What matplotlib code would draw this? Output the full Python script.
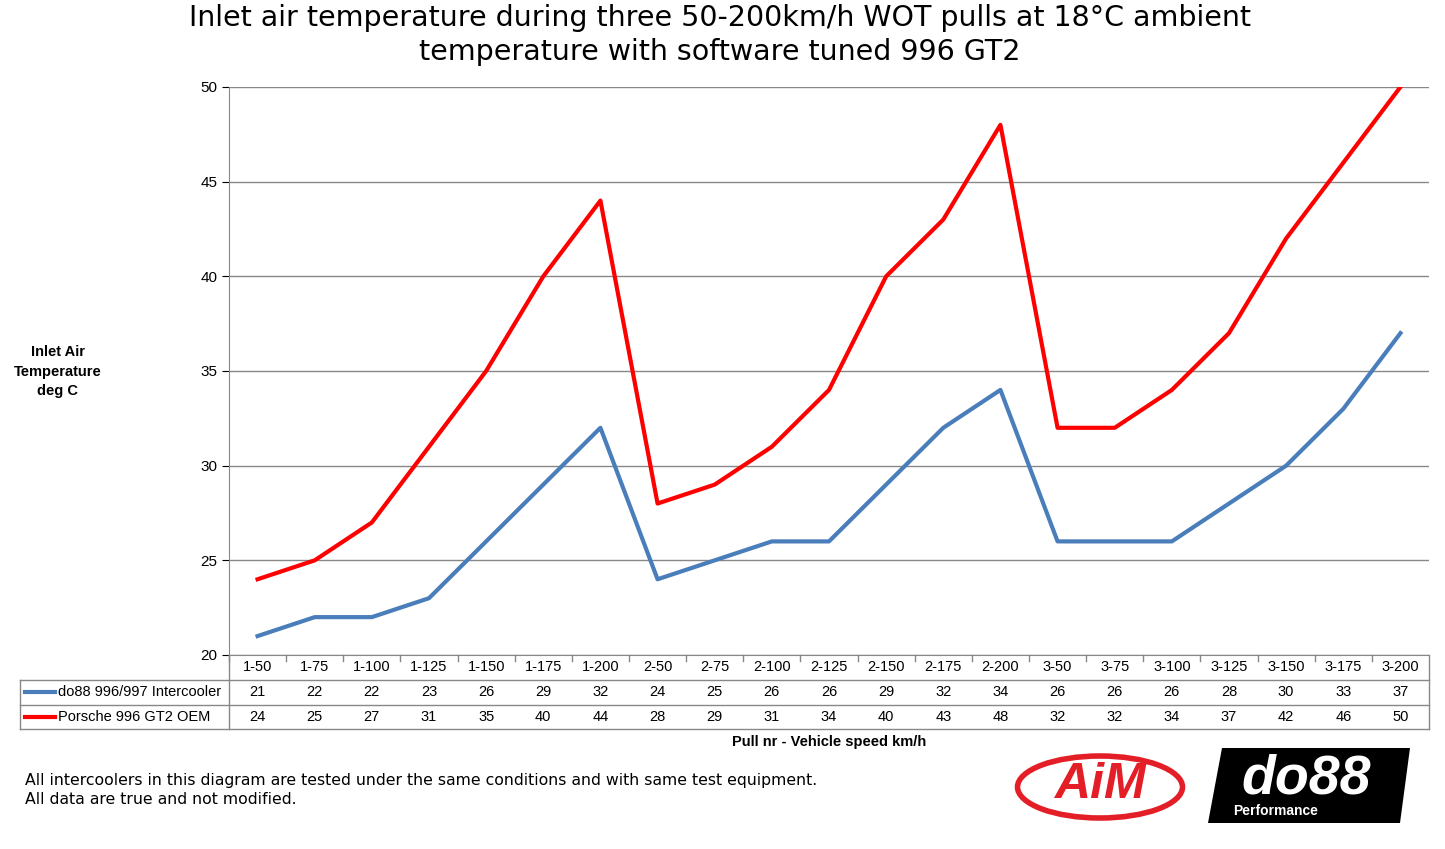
import matplotlib
matplotlib.use("Agg")
import matplotlib.pyplot as plt
from matplotlib.transforms import blended_transform_factory
from matplotlib.patches import Ellipse, Polygon

categories = ['1-50', '1-75', '1-100', '1-125', '1-150', '1-175', '1-200',
              '2-50', '2-75', '2-100', '2-125', '2-150', '2-175', '2-200',
              '3-50', '3-75', '3-100', '3-125', '3-150', '3-175', '3-200']
do88 = [21, 22, 22, 23, 26, 29, 32, 24, 25, 26, 26, 29, 32, 34, 26, 26, 26, 28, 30, 33, 37]
oem = [24, 25, 27, 31, 35, 40, 44, 28, 29, 31, 34, 40, 43, 48, 32, 32, 34, 37, 42, 46, 50]
series = [("do88 996/997 Intercooler", do88, "#4a7ebb"),
          ("Porsche 996 GT2 OEM", oem, "#ff0000")]

plt.rcParams['font.family'] = ['Liberation Sans', 'DejaVu Sans']
W, H = 1445, 849
fig = plt.figure(figsize=(W / 100, H / 100), dpi=100)
ax = fig.add_axes([229 / W, 1 - 655 / H, 1200 / W, 568 / H])

x = list(range(len(categories)))
for name, vals, col in series:
    ax.plot(x, vals, color=col, lw=3)

ax.set_xlim(-0.5, len(categories) - 0.5)
ax.set_ylim(20, 50)
ax.set_yticks(range(20, 51, 5))
ax.grid(axis='y', color='#888888', lw=1)
ax.set_xticks([])
ax.tick_params(axis='y', length=5, labelsize=11)
for s in ['top', 'right']:
    ax.spines[s].set_visible(False)
ax.spines['left'].set_color('#888888')
ax.spines['bottom'].set_color('#888888')

def fy(py):
    return 1 - py / H

tr = blended_transform_factory(ax.transData, fig.transFigure)
for i, c in enumerate(categories):
    fig.text(i, fy(667), c, transform=tr, ha='center', va='center', fontsize=10.5)
    fig.text(i, fy(692), str(do88[i]), transform=tr, ha='center', va='center', fontsize=10.5)
    fig.text(i, fy(717), str(oem[i]), transform=tr, ha='center', va='center', fontsize=10.5)
    fig.add_artist(plt.Line2D([i - 0.5, i - 0.5], [fy(655), fy(661)], transform=tr, color='#888888', lw=1))

lc = '#888888'
for py in [680, 705, 729]:
    fig.add_artist(plt.Line2D([20 / W, 1429 / W], [fy(py), fy(py)], color=lc, lw=1))
for px, top in [(20, 680), (229, 655), (1429, 655)]:
    fig.add_artist(plt.Line2D([px / W, px / W], [fy(top), fy(729)], color=lc, lw=1))
for (name, vals, col), py in zip(series, [692, 717]):
    fig.add_artist(plt.Line2D([25 / W, 55 / W], [fy(py), fy(py)], color=col, lw=3))
    fig.text(58 / W, fy(py), name, ha='left', va='center', fontsize=10.5)

fig.text(0.498, fy(35), "Inlet air temperature during three 50-200km/h WOT pulls at 18°C ambient\ntemperature with software tuned 996 GT2",
         ha='center', va='center', fontsize=20.5, family='DejaVu Sans', linespacing=1.3)
fig.text(58 / W, fy(372), "Inlet Air\nTemperature\ndeg C", ha='center', va='center',
         fontsize=10.5, fontweight='bold', linespacing=1.5)
fig.text(829 / W, fy(742), "Pull nr - Vehicle speed km/h", ha='center', va='center',
         fontsize=10.5, fontweight='bold')
fig.text(25 / W, fy(790), "All intercoolers in this diagram are tested under the same conditions and with same test equipment.\nAll data are true and not modified.",
         ha='left', va='center', fontsize=11.3, family='DejaVu Sans', linespacing=1.3)

# logos (approximate)
fig.add_artist(Ellipse((1100 / W, fy(787)), 165 / W, 62 / H, transform=fig.transFigure,
                       facecolor='white', edgecolor='#e41e26', lw=4))
fig.text(1100 / W, fy(785), "AiM", ha='center', va='center', fontsize=36, color='#e41e26',
         fontweight='bold', style='italic')
fig.add_artist(Polygon([(1222 / W, fy(748)), (1410 / W, fy(748)), (1400 / W, fy(823)), (1208 / W, fy(823))],
                       closed=True, transform=fig.transFigure, facecolor='black'))
fig.text(1306 / W, fy(780), "do88", ha='center', va='center', fontsize=40, color='white',
         fontweight='bold', style='italic')
fig.text(1276 / W, fy(811), "Performance", ha='center', va='center', fontsize=10, color='white',
         fontweight='bold')

fig.savefig("out.png", dpi=100)
